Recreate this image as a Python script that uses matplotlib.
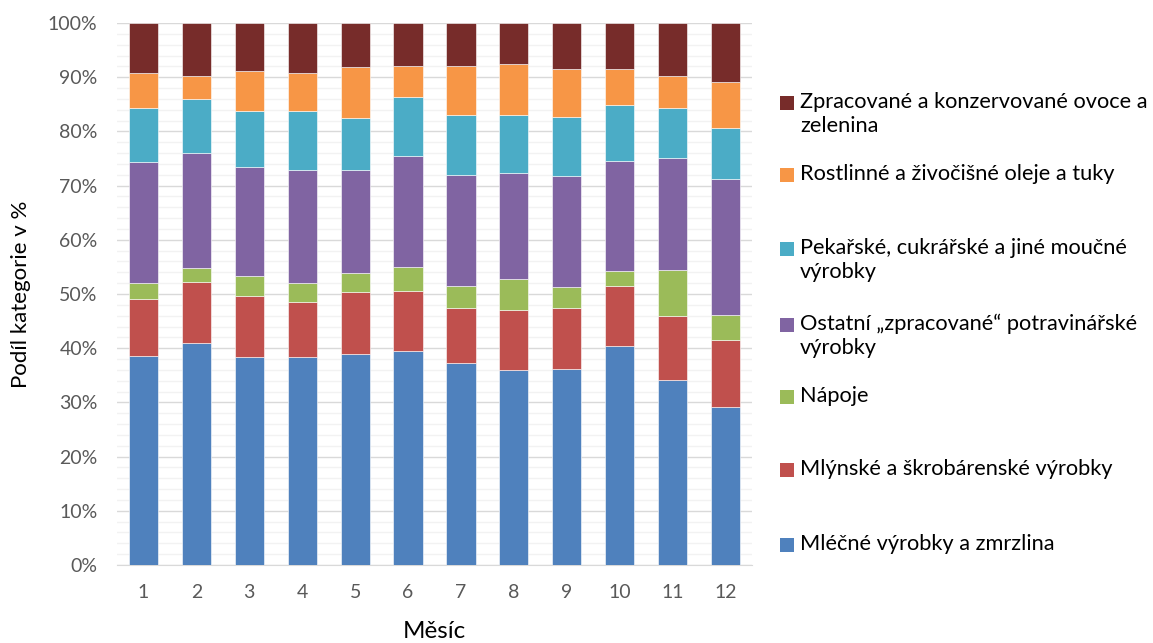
import matplotlib
matplotlib.use("Agg")
import matplotlib.pyplot as plt
from matplotlib.patches import Rectangle
import numpy as np

months = ["1", "2", "3", "4", "5", "6", "7", "8", "9", "10", "11", "12"]
series_names = [
    "Mléčné výrobky a zmrzlina",
    "Mlýnské a škrobárenské výrobky",
    "Nápoje",
    "Ostatní „zpracované“ potravinářské\nvýrobky",
    "Pekařské, cukrářské a jiné moučné\nvýrobky",
    "Rostlinné a živočišné oleje a tuky",
    "Zpracované a konzervované ovoce a\nzelenina",
]
mlecne = [38.6, 41.0, 38.4, 38.3, 38.9, 39.4, 37.2, 35.9, 36.2, 40.4, 34.2, 29.1]
mlynske = [10.5, 11.2, 11.3, 10.3, 11.5, 11.2, 10.3, 11.2, 11.3, 11.1, 11.7, 12.4]
napoje = [2.9, 2.6, 3.6, 3.5, 3.5, 4.4, 3.9, 5.7, 3.8, 2.7, 8.5, 4.6]
ostatni = [22.4, 21.3, 20.2, 20.8, 18.9, 20.4, 20.6, 19.6, 20.5, 20.4, 20.7, 25.1]
pekarske = [9.9, 9.9, 10.3, 10.9, 9.7, 10.9, 11.1, 10.6, 10.9, 10.3, 9.2, 9.4]
oleje = [6.5, 4.3, 7.3, 6.9, 9.3, 5.7, 8.9, 9.4, 8.8, 6.7, 5.9, 8.6]
ovoce = [9.2, 9.7, 8.9, 9.3, 8.2, 8.0, 8.0, 7.6, 8.5, 8.4, 9.8, 10.8]
series = [mlecne, mlynske, napoje, ostatni, pekarske, oleje, ovoce]
colors = ["#4F81BD", "#C0504D", "#9BBB59", "#8064A2", "#4BACC6", "#F79646", "#772C2A"]

plt.rcParams['font.family'] = ['Lato', 'DejaVu Sans']

W, H = 1153, 643
fig = plt.figure(figsize=(W / 100, H / 100), dpi=100)
ax = fig.add_axes([117 / W, 1 - 565 / H, (752 - 117) / W, (565 - 23) / H])

x = np.arange(1, len(months) + 1)
tot = np.array([sum(s[i] for s in series) for i in range(len(months))])
bottom = np.zeros(len(months))
for vals, col, name in zip(series, colors, series_names):
    frac = np.array(vals, dtype=float) / tot * 100
    ax.bar(x, frac, 0.55, bottom=bottom, color=col, edgecolor="white",
           linewidth=0.4, label=name, zorder=3)
    bottom += frac

ax.set_xlim(0.5, 12.5)
ax.set_ylim(0, 100)
ax.set_yticks(np.arange(0, 101, 10))
ax.set_yticklabels([f"{t}%" for t in range(0, 101, 10)])
ax.set_yticks(np.arange(0, 101, 2), minor=True)
ax.set_xticks(x)
ax.set_xticklabels(months)
ax.grid(axis="y", which="major", color="#d9d9d9", linewidth=1.0, zorder=0)
ax.grid(axis="y", which="minor", color="#f2f2f2", linewidth=1.0, zorder=0)
ax.set_axisbelow(True)
for s in ["top", "right", "left"]:
    ax.spines[s].set_visible(False)
ax.spines["bottom"].set_color("#d9d9d9")
ax.tick_params(axis="both", which="both", length=0, labelsize=14, colors="#595959")
ax.tick_params(axis="x", pad=14)
ax.tick_params(axis="y", pad=14)

ax.set_xlabel("Měsíc", fontsize=17.5, color="black", labelpad=14)
ax.set_ylabel("Podíl kategorie v %", fontsize=16, color="black", labelpad=12)

# Legend (Excel-like, reversed order, uniform spacing)
marker_y = [103, 175, 249, 325, 397, 470, 545]
for i, (name, col) in enumerate(zip(series_names[::-1], colors[::-1])):
    yc = marker_y[i]
    fig.add_artist(Rectangle((780 / W, 1 - (yc + 7) / H), 14 / W, 14 / H,
                             transform=fig.transFigure, facecolor=col,
                             edgecolor="none"))
    fig.text(800 / W, 1 - (yc - 11) / H, name, fontsize=15.7, va="top",
             ha="left", color="black", linespacing=1.25)

fig.savefig("out.png", dpi=100)
